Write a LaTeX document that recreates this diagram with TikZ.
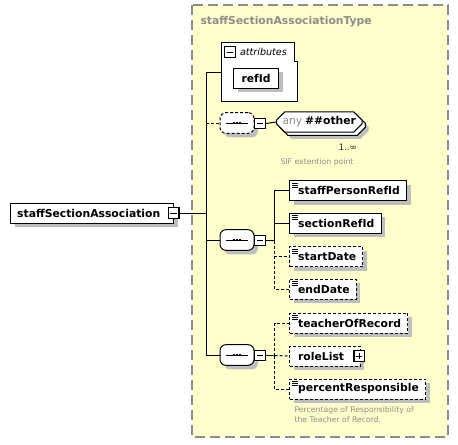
\documentclass[tikz,border=0pt]{standalone}
\usepackage{fontspec}
\setmainfont{DejaVu Sans}
\usetikzlibrary{positioning, shapes.misc, shadows}
\definecolor{panelfill}{HTML}{FFFFCC}
\definecolor{panelline}{HTML}{8C8C8C}
\definecolor{titlegray}{HTML}{8C8C8C}
\definecolor{shadowgray}{HTML}{BEBEBE}
\definecolor{notegray}{HTML}{8C8C8C}
\tikzset{
    shade4/.style={drop shadow={shadow xshift=3pt, shadow yshift=-3pt, fill=shadowgray, opacity=1}},
    elem/.style={rectangle, draw=black, fill=white, anchor=west, minimum height=15pt, inner xsep=5pt, inner ysep=0pt, font=\fontsize{8.1}{9.5}\selectfont\bfseries, shade4},
    optelem/.style={elem, dash pattern=on 2.25pt off 1.5pt},
    simple/.style={execute at begin node={\hspace{1.5pt}}, path picture={\foreach \k in {1,2,3} \draw[solid, black, line width=0.6pt] ([shift={(2pt,-0.8pt-\k*1.35pt)}]path picture bounding box.north west) -- ++(4.2pt,0);}},
    togglebox/.style={rectangle, draw=black, line width=0.9pt, fill=white, minimum size=8pt, inner sep=0pt},
    minusbox/.style={togglebox, path picture={\draw[black, line width=0.75pt] ([xshift=1.6pt]path picture bounding box.west) -- ([xshift=-1.6pt]path picture bounding box.east);}},
    plusbox/.style={togglebox, path picture={\draw[black, line width=0.75pt] ([xshift=1.6pt]path picture bounding box.west) -- ([xshift=-1.6pt]path picture bounding box.east); \draw[black, line width=0.75pt] ([yshift=1.6pt]path picture bounding box.south) -- ([yshift=-1.6pt]path picture bounding box.north);}},
    seqbox/.style={rectangle, rounded corners=4.5pt, draw=black, fill=white, minimum width=25.5pt, minimum height=15.5pt, inner sep=0pt, shade4,
        path picture={\draw[solid, sharp corners, black, line width=0.75pt] ([xshift=-8pt]path picture bounding box.center) -- ([xshift=8pt]path picture bounding box.center);
            \foreach \d in {-2.5,0,2.5} \fill[black, sharp corners] ([xshift=\d pt]path picture bounding box.center) +(-0.75pt,-0.75pt) rectangle +(0.75pt,0.75pt);}},
    optline/.style={dash pattern=on 2.25pt off 1.5pt},
    note/.style={anchor=west, align=left, font=\fontsize{5.8}{7.2}\selectfont, text=notegray, inner sep=0pt}
}
\begin{document}
\begin{tikzpicture}[x=0.75pt, y=-0.75pt, line width=0.75pt]
    \useasboundingbox (0,0) rectangle (458,444);

    % Complex type panel
    \draw[panelline, line width=1.3pt, dash pattern=on 7.5pt off 3.75pt, fill=panelfill] (192,5) rectangle (448,437);
    \node[anchor=west, inner sep=0pt, text=titlegray, font=\fontsize{8.1}{9.5}\selectfont\bfseries] (typeTitle) at (200,22) {staffSectionAssociationType};

    % Root element
    \node[elem, execute at end node={\hspace{5pt}}] (rootBox) at (10,213) {staffSectionAssociation};
    \node[minusbox] (rootMinus) at ([xshift=-0.4pt]rootBox.east) {};

    % Attributes group
    \draw[fill=white] (221,42) -- (294,42) -- (294,61) -- (297,61) -- (297,101) -- (221,101) -- cycle;
    \coordinate (attrWest) at (221,72);
    \node[minusbox] (attrMinus) at (230,52) {};
    \node[anchor=west, inner sep=0pt, font=\fontsize{7.2}{8.5}\selectfont\itshape] (attrLabel) at (239.5,52) {attributes};
    \node[elem, inner xsep=6pt] (refId) at (233,78) {refId};

    % Trunk from the root element
    \coordinate (trunkTop) at (206,72);
    \coordinate (trunkBot) at (206,355);
    \draw (trunkTop) -- (trunkBot);
    \draw (rootMinus.east) -- (rootMinus.east -| trunkTop);
    \draw (trunkTop) -- (attrWest);

    % Extension point
    \node[seqbox, optline] (seqAny) at (237,123) {};
    \node[minusbox] (seqAnyMinus) at (260,123.5) {};
    \node[chamfered rectangle, chamfered rectangle xsep=2.5pt, draw=black, fill=white, anchor=west, minimum height=14.5pt, inner xsep=2pt, inner ysep=0pt,
          font=\fontsize{8.1}{9.5}\selectfont\bfseries,
          drop shadow={shadow xshift=5pt, shadow yshift=-5pt, fill=shadowgray, opacity=1},
          copy shadow={shadow xshift=2.5pt, shadow yshift=-2.5pt, draw=black, fill=white}] (anyOther) at (276,122) {\textcolor{notegray}{\mdseries any}\hspace{2pt}\#\#other};
    \node[anchor=west, inner sep=0pt, font=\fontsize{6.6}{8}\selectfont, text=black!85] (anyCount) at (338,147) {1..∞};
    \node[note] (anyNote) at (280,162) {SIF extention point};
    \draw[optline] (seqAny.west -| trunkTop) -- (seqAny.west);
    \draw (seqAny.east) -- (seqAnyMinus.west);
    \draw (seqAnyMinus.east) -- (anyOther.west);

    % Required references and dates
    \node[seqbox] (seqMain) at (237,240) {};
    \node[minusbox] (seqMainMinus) at (260,240.5) {};
    \coordinate[right=6.5pt of seqMainMinus] (busMain);
    \node[elem, simple] (staffPersonRefId) at (289,190.5) {staffPersonRefId};
    \node[elem, simple] (sectionRefId) at (289,223) {sectionRefId};
    \node[optelem, simple] (startDate) at (289,256.5) {startDate};
    \node[optelem, simple] (endDate) at (289,289) {endDate};
    \draw (seqMain.west -| trunkTop) -- (seqMain.west);
    \draw (seqMainMinus.east) -- (busMain);
    \draw (busMain) |- (staffPersonRefId.west);
    \draw (busMain) |- (sectionRefId.west);
    \draw[optline] (busMain) |- (startDate.west);
    \draw[optline] (busMain) |- (endDate.west);

    % Optional teacher details
    \node[seqbox] (seqOpt) at (237,355) {};
    \node[minusbox] (seqOptMinus) at (260,355.5) {};
    \coordinate[right=6.5pt of seqOptMinus] (busOpt);
    \node[optelem, simple] (teacherOfRecord) at (289,323) {teacherOfRecord};
    \node[optelem, execute at begin node={\hspace{1.5pt}}, execute at end node={\hspace{7pt}}] (roleList) at (289,356) {roleList};
    \node[plusbox] (roleListPlus) at ([xshift=-1pt]roleList.east) {};
    \node[optelem, simple] (percentResponsible) at (289,389) {percentResponsible};
    \node[note] (percentNote) at (294,414.5) {Percentage of Responsibility of\\the Teacher of Record.};
    \draw (seqOpt.west -| trunkTop) -- (seqOpt.west);
    \draw (seqOptMinus.east) -- (busOpt);
    \draw[optline] (busOpt) |- (teacherOfRecord.west);
    \draw[optline] (busOpt) -- (roleList.west);
    \draw[optline] (busOpt) |- (percentResponsible.west);
\end{tikzpicture}
\end{document}
